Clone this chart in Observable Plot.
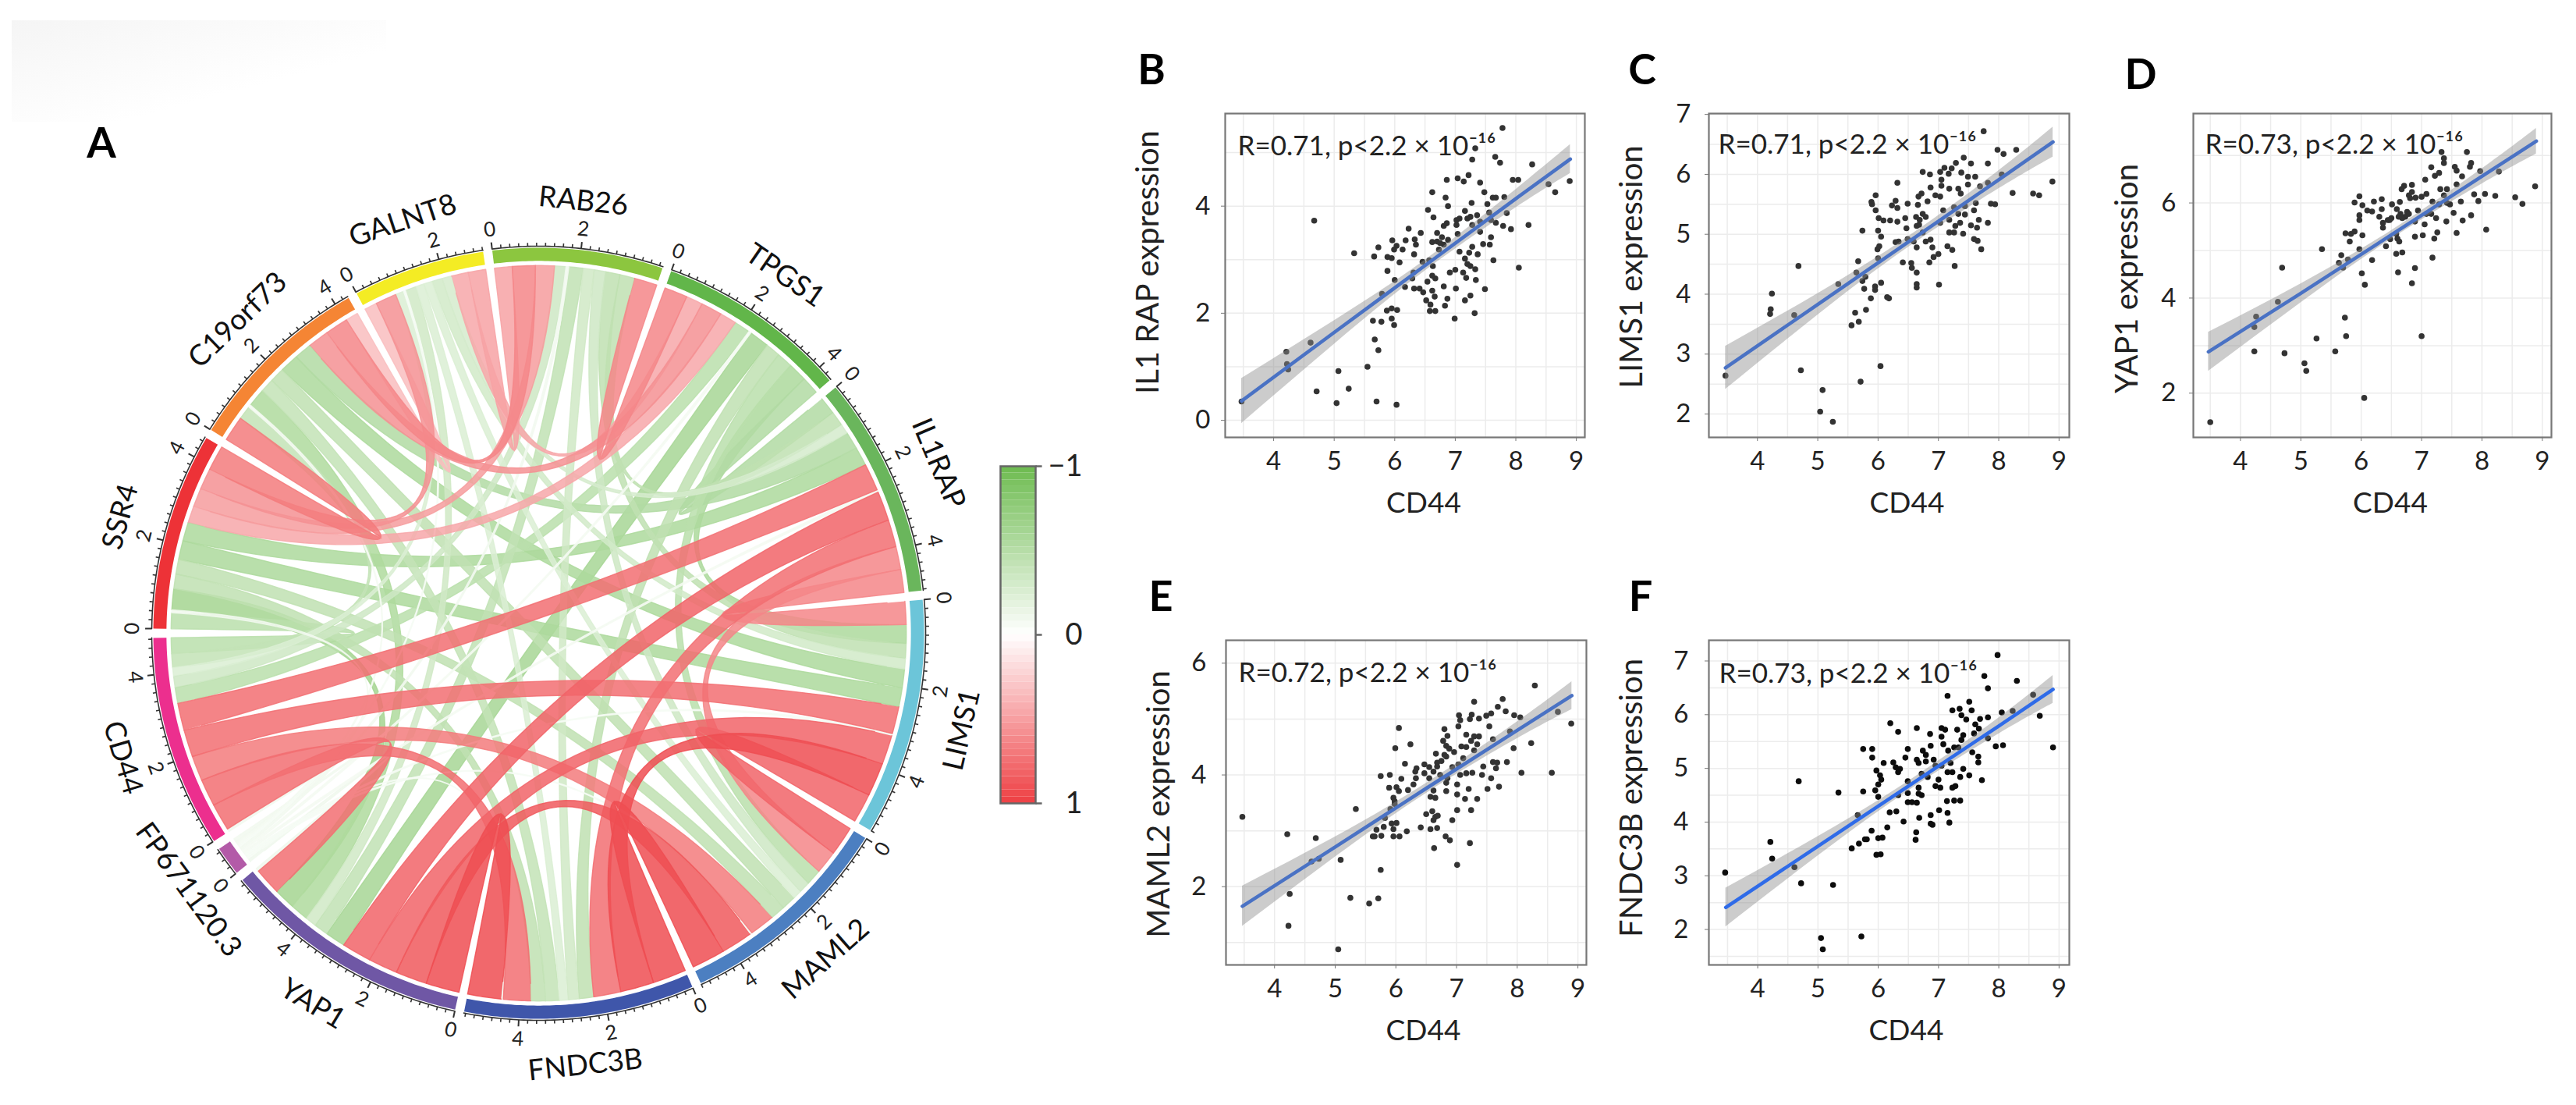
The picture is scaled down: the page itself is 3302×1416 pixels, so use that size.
<!DOCTYPE html>
<html><head><meta charset="utf-8">
<script src="https://cdn.jsdelivr.net/npm/d3@7"></script>
<script src="https://cdn.jsdelivr.net/npm/@observablehq/plot@0.6"></script>
<style>
html,body{margin:0;padding:0;background:#fff}
#page{position:relative;width:3302px;height:1416px;overflow:hidden;background:#fff;font-family:Lato,sans-serif}
#smudge{position:absolute;left:15px;top:26px;width:480px;height:130px;background:linear-gradient(165deg,#f5f5f5,#fff 65%)}
.letter{position:absolute;font:700 54px Lato,sans-serif;transform:translate(-50%,-50%);color:#000}
</style></head><body><div id="page"><div id="smudge"></div></div>
<script>
// ---------- Chord data (panel A) ----------
const genes = ["LIMS1","MAML2","FNDC3B","YAP1","FP671120.3","CD44","SSR4","C19orf73","GALNT8","RAB26","TPGS1","IL1RAP"];
const geneColors = ["#6cc5d9","#4c7fc1","#3f56aa","#6f57a5","#b35ba8","#ec2f8e","#ed3237","#f58534","#f4ec24","#8cc63f","#62b64a","#6ab65c"];
const correlations = [
 ["LIMS1","MAML2",.7],["LIMS1","FNDC3B",.8],["LIMS1","YAP1",.7],["LIMS1","CD44",.65],["LIMS1","IL1RAP",.55],
 ["MAML2","FNDC3B",.8],["MAML2","YAP1",.75],["MAML2","CD44",.6],["MAML2","IL1RAP",.55],
 ["FNDC3B","YAP1",.8],["FNDC3B","CD44",.65],["FNDC3B","IL1RAP",.65],
 ["YAP1","CD44",.65],["YAP1","IL1RAP",.7],["CD44","IL1RAP",.65],
 ["LIMS1","SSR4",-.45],["LIMS1","C19orf73",-.45],["LIMS1","GALNT8",-.25],["LIMS1","RAB26",-.35],["LIMS1","TPGS1",-.45],
 ["MAML2","SSR4",-.35],["MAML2","C19orf73",-.35],["MAML2","GALNT8",-.2],["MAML2","RAB26",-.27],["MAML2","TPGS1",-.38],
 ["FNDC3B","SSR4",-.35],["FNDC3B","C19orf73",-.33],["FNDC3B","GALNT8",-.2],["FNDC3B","RAB26",-.26],["FNDC3B","TPGS1",-.35],
 ["YAP1","SSR4",-.5],["YAP1","C19orf73",-.44],["YAP1","GALNT8",-.26],["YAP1","RAB26",-.34],["YAP1","TPGS1",-.48],
 ["CD44","SSR4",-.38],["CD44","C19orf73",-.33],["CD44","GALNT8",-.2],["CD44","RAB26",-.27],["CD44","TPGS1",-.38],
 ["IL1RAP","SSR4",-.45],["IL1RAP","C19orf73",-.42],["IL1RAP","GALNT8",-.23],["IL1RAP","RAB26",-.35],["IL1RAP","TPGS1",-.42],
 ["SSR4","C19orf73",.6],["SSR4","GALNT8",.5],["SSR4","RAB26",.45],["SSR4","TPGS1",.4],
 ["C19orf73","GALNT8",.3],["C19orf73","RAB26",.55],["C19orf73","TPGS1",.5],
 ["GALNT8","RAB26",.42],["GALNT8","TPGS1",.4],["RAB26","TPGS1",.55],
 ["FP671120.3","YAP1",-.08],["FP671120.3","FNDC3B",-.05],["FP671120.3","MAML2",-.05],["FP671120.3","LIMS1",-.05],
 ["FP671120.3","IL1RAP",-.06],["FP671120.3","TPGS1",-.06],["FP671120.3","RAB26",-.07],["FP671120.3","GALNT8",-.05],
 ["FP671120.3","C19orf73",-.06],["FP671120.3","SSR4",-.07],["FP671120.3","CD44",-.07]
];
const legendTicks = [-1,0,1];
// ---------- Scatter data (panels B-F) ----------
const fitX = [3.47,5,6.5,8,8.9];
const pointsB = [[3.47,.35],[4.21,1.28],[4.22,1.05],[4.24,.95],[4.61,1.45],[4.67,3.73],[4.71,.54],[5.07,.92],[5.04,.32],[5.24,.59],[5.33,3.12],[5.55,1],[5.66,3.06],[5.64,1.86],[5.67,1.51],[5.73,1.31],[5.7,.35],[5.73,3.23],[5.78,1.84],[5.79,2.36],[5.88,2.79],[5.88,3.05],[5.95,3.03],[5.87,2.05],[5.95,2.09],[5.95,1.9],[5.99,1.78],[6.04,2.06],[6.03,.29],[5.96,3.36],[6.03,3.26],[5.99,3.19],[6.13,3.19],[6.08,2.95],[6,2.62],[6.17,2.49],[6.18,3.36],[6.23,3.58],[6.29,2.65],[6.31,2.76],[6.32,3.1],[6.35,3.28],[6.33,3.38],[6.43,3.5],[6.32,2.46],[6.41,2.46],[6.46,2.96],[6.47,2.39],[6.55,3.93],[6.62,4.26],[6.64,3.79],[6.57,2.99],[6.63,2.88],[6.54,2.59],[6.67,2.65],[6.62,2.7],[6.62,2.42],[6.66,2.31],[6.52,2.24],[6.59,2.16],[6.58,2.04],[6.67,2.04],[6.81,2.5],[6.87,2.27],[6.83,2.14],[6.99,1.9],[6.91,2.76],[7,2.81],[7.01,2.46],[6.62,3.33],[6.7,3.5],[6.7,3.34],[6.75,3.31],[6.78,3.42],[6.73,3.19],[6.81,3.28],[6.88,3.37],[6.81,3.63],[6.86,3.68],[6.88,4],[6.84,4.16],[6.86,4.49],[7.04,4.52],[7.14,4.46],[7.22,4.58],[7.41,4.44],[7.28,4.87],[7.33,5.08],[7.66,4.92],[7.74,4.81],[7.78,5.46],[8.27,4.78],[7.95,4.49],[8.04,4.49],[7.48,4.26],[7.62,4.16],[7.67,4.16],[7.81,4.17],[7.27,4.06],[7.53,4.04],[7.16,3.91],[7.25,3.8],[7.02,3.74],[7.07,3.77],[7.2,3.77],[7.36,3.83],[7.41,3.71],[7.56,3.88],[7.28,3.65],[7.02,3.65],[7.04,3.48],[7.41,3.52],[7.59,3.42],[7.57,3.28],[7.46,3.29],[7.28,3.24],[7.07,3.15],[7.23,3.13],[7.37,3.1],[7.16,3.02],[7.2,2.92],[7.25,2.88],[7.13,2.76],[7.33,2.82],[7.18,2.66],[7.34,2.62],[7.49,2.45],[7.63,2.99],[7.25,2.33],[7.16,2.24],[7.32,2],[8.05,2.85],[7.85,3.87],[7.79,3.63],[7.92,3.57],[8.21,3.65],[7.67,3.69],[7.59,3.74],[8.54,4.41],[8.65,4.26],[8.89,4.47]];
const pointsC = [[3.47,2.64],[4.24,4.01],[4.22,3.75],[4.21,3.67],[4.61,3.65],[4.68,4.47],[4.72,2.73],[5.08,2.4],[5.04,2.04],[5.25,1.87],[5.34,4.17],[5.56,3.48],[5.62,3.69],[5.68,3.54],[5.71,2.54],[5.67,4.55],[5.64,4.36],[5.74,5.06],[5.74,4.22],[5.79,4.29],[5.8,3.74],[5.77,4.09],[5.88,3.93],[5.95,4.13],[5.95,4.07],[6.05,4.19],[6.04,2.8],[6.15,3.95],[6.18,3.93],[6,4.6],[5.99,4.75],[6.02,4.8],[6.05,4.96],[6,5.06],[6.01,5.27],[5.96,5.4],[5.89,5.54],[5.9,5.5],[5.96,5.65],[6.09,5.23],[6.2,5.23],[6.32,5.86],[6.29,5.56],[6.23,5.48],[6.32,5.44],[6.32,5.21],[6.34,4.88],[6.29,4.87],[6.41,4.53],[6.45,5.27],[6.47,5.1],[6.49,5.51],[6.49,4.92],[6.55,4.52],[6.56,4.44],[6.64,4.36],[6.64,4.17],[6.64,4.11],[6.64,4.78],[6.59,4.88],[6.66,5.49],[6.67,5.63],[6.72,5.68],[6.74,6.04],[6.86,6],[6.63,5.29],[6.64,5.14],[6.69,5.24],[6.74,5.34],[6.68,5.16],[6.79,5.29],[6.82,5.55],[6.87,5.78],[6.95,5.65],[7.03,5.63],[7.05,5.91],[7.03,6.04],[7.1,6.11],[7.17,6.01],[7.22,6.1],[7.29,6.19],[7.42,6.28],[7.54,6.18],[7.38,6.03],[7.61,5.96],[7.49,5.96],[7.49,5.83],[7.33,5.76],[7.37,5.68],[7.18,5.76],[7.05,5.81],[7.69,5.8],[7.75,6.72],[7.82,6.18],[7.98,6.41],[8.08,6.34],[8.05,6],[7.82,5.86],[7.87,5.51],[7.94,5.5],[8.23,5.69],[7.82,5.19],[7.67,5.24],[7.59,5.4],[7.62,5.52],[7.54,5.15],[7.64,5.11],[7.59,4.92],[7.65,4.89],[7.71,4.75],[7.27,4.47],[7.01,4.16],[6.85,4.53],[6.92,4.62],[7,4.67],[7.15,4.8],[7.23,4.74],[6.9,4.78],[7.03,5.19],[7.18,5.24],[7.28,5.14],[7.26,5.03],[7.18,5.03],[7.36,5.19],[7.41,5.01],[7.08,5.4],[7.26,5.45],[7.33,5.34],[7.44,5.33],[7.44,5.47],[6.79,4.88],[6.74,5.03],[6.87,4.91],[8.29,6.41],[8.57,5.68],[8.67,5.65],[8.89,5.88]];
const pointsD = [[3.5,1.39],[4.23,2.88],[4.23,3.39],[4.26,3.61],[4.62,3.92],[4.69,4.64],[4.73,2.84],[5.06,2.63],[5.09,2.47],[5.26,3.15],[5.35,5.03],[5.57,2.88],[5.73,3.59],[5.75,3.2],[5.63,4.74],[5.67,4.9],[5.7,4.64],[5.78,4.81],[5.74,5.36],[5.83,5.35],[5.81,5.19],[5.89,5.4],[5.97,5.03],[5.89,6.01],[5.97,6.14],[6.02,5.95],[5.97,5.74],[5.97,5.64],[6.02,5.32],[6.01,4.52],[6.06,4.28],[6.05,1.9],[6.18,4.8],[6.1,5.84],[6.21,6.03],[6.34,6.08],[6.18,5.82],[6.34,5.87],[6.3,5.71],[6.36,5.58],[6.36,5.48],[6.44,5.64],[6.5,5.68],[6.41,5.09],[6.48,5.24],[6.51,5.97],[6.59,5.87],[6.64,6.02],[6.62,5.71],[6.73,5.71],[6.67,6.29],[6.71,6.36],[6.84,6.38],[6.79,6.16],[6.84,6.23],[6.81,6.1],[6.9,6.11],[7,6.13],[7.08,6.19],[7.06,6.49],[7.16,6.75],[7.22,6.57],[7.29,6.63],[7.33,7.07],[7.37,6.94],[7.37,6.84],[7.55,6.76],[7.58,6.68],[7.75,7.07],[7.82,6.84],[7.8,6.76],[7.97,6.67],[7.67,6.56],[7.58,6.39],[7.31,6.29],[7.42,6.29],[7.37,6.16],[7.87,6.18],[8.05,6.19],[7.94,6.04],[8.22,6.15],[8.07,5.44],[7.82,5.74],[7.68,5.63],[7.53,5.79],[7.41,5.61],[7.58,5.37],[7.65,6.03],[7.47,5.97],[7.24,5.68],[7.26,5.38],[7.21,5.25],[7.02,5.32],[6.89,5.29],[7.18,4.85],[6.89,4.63],[6.84,4.31],[7,3.2],[6.61,4.54],[6.58,4.93],[6.68,4.96],[6.6,5.25],[6.63,5.19],[6.65,5.77],[6.76,5.81],[6.94,5.84],[7.05,5.55],[7.16,5.77],[7.29,5.97],[6.47,5.64],[6.58,5.35],[6.89,5.61],[7.08,5.77],[6.79,5.77],[7.18,6.03],[7.42,6],[6.68,5.68],[8.88,6.35],[8.55,6.12],[8.67,5.98],[8.28,6.66]];
const pointsE = [[3.47,3.25],[4.21,2.94],[4.25,1.87],[4.23,1.3],[4.61,2.45],[4.68,2.87],[4.73,2.5],[5.05,.88],[5.09,2.48],[5.25,1.8],[5.34,3.39],[5.56,1.7],[5.71,1.79],[5.75,2.3],[5.62,2.9],[5.68,3.02],[5.65,2.9],[5.76,2.91],[5.8,3.07],[5.82,3.23],[5.75,3.98],[5.9,4],[5.89,3.77],[6.01,3.78],[6.05,3.71],[5.96,3.59],[5.98,3.53],[5.91,3.39],[5.98,3.48],[5.93,3.13],[6.01,3.14],[5.96,3.03],[5.96,2.9],[6.06,2.9],[6.18,2.99],[6.41,3.06],[6.57,3.03],[6.68,3.05],[6.5,3.3],[6.6,3.35],[6.65,3.25],[6.62,3.19],[6.69,3.27],[6.63,2.69],[6.82,2.9],[6.89,2.83],[7.01,2.39],[7.22,2.78],[6.93,3.19],[7.01,3.37],[7.24,3.37],[7.34,3.57],[7.14,3.57],[7.01,3.65],[7.2,3.75],[7.51,3.75],[7.7,3.79],[7.57,3.94],[7.42,4],[7.44,4.15],[7.6,4.23],[7.67,4.22],[7.65,4.12],[7.83,4.23],[8.07,4.04],[8.23,4.57],[7.94,4.48],[7.88,4.78],[7.81,5.14],[7.76,5.36],[7.68,5.22],[7.57,5.1],[7.49,5.06],[7.37,5.01],[7.29,5.31],[7.25,5.08],[7.22,5],[7.04,5.07],[7.06,4.98],[7.03,4.87],[6.8,4.82],[6.85,4.7],[6.78,4.61],[6.83,4.52],[6.88,4.47],[6.96,4.41],[6.8,4.36],[6.66,4.38],[7.54,4.87],[7.6,4.64],[7.95,5.07],[8.05,5.03],[8.29,5.6],[7.37,4.69],[7.29,4.69],[7.16,4.72],[7.24,4.61],[7.34,4.55],[7.08,4.51],[7.16,4.5],[7.29,4.44],[7.11,4.3],[6.83,4.33],[6.75,4.25],[6.68,4.22],[6.68,4.15],[6.93,4.14],[7.03,4.19],[6.47,4.19],[6.55,4.14],[6.34,4.12],[6.32,4.06],[6.47,4.03],[6.55,3.94],[6.62,4.06],[6.73,4],[6.85,3.94],[6.83,3.86],[7.06,4],[7.16,4.03],[7.26,4.04],[6.29,3.83],[6.2,3.73],[6.09,3.93],[6.15,4.2],[6.05,4.84],[5.99,4.48],[6.24,4.55],[6.57,3.61],[6.62,3.72],[6.83,3.71],[7.01,3.83],[6.65,3.59],[6.33,3.94],[8.67,5.13],[8.89,4.92],[8.57,4.04]];
const pointsF = [[3.46,3.06],[4.21,3.63],[4.24,3.32],[4.61,3.16],[4.68,4.76],[4.72,2.86],[5.05,1.84],[5.08,1.63],[5.25,2.83],[5.34,4.55],[5.56,3.51],[5.66,4.13],[5.68,3.6],[5.72,1.87],[5.75,5.36],[5.75,4.57],[5.78,3.68],[5.81,3.68],[5.89,3.84],[5.9,5.36],[5.9,5.2],[5.97,3.39],[6.04,3.4],[6,3.7],[6.07,3.71],[5.97,4.96],[6.03,4.87],[6.05,4.79],[6,4.7],[5.95,4.59],[6,4.47],[6.09,5.1],[6.15,3.9],[6.19,4.18],[6.3,4.2],[6.2,5.84],[6.33,5.68],[6.25,5.11],[6.29,5.02],[6.33,4.93],[6.36,4.99],[6.42,4.01],[6.45,5.2],[6.49,5.36],[6.49,4.76],[6.49,4.54],[6.33,4.5],[6.49,4.37],[6.56,4.37],[6.64,4.36],[6.62,3.67],[6.63,3.81],[6.64,5.75],[6.64,5.16],[6.67,5.1],[6.67,4.64],[6.67,4.53],[6.72,4.5],[6.68,4.08],[6.87,4.13],[6.87,3.97],[6.9,3.95],[7.01,4.22],[7.15,4.17],[7.18,3.99],[7.14,4.39],[7.26,4.4],[7.36,4.4],[6.95,4.67],[7.03,4.64],[7,4.79],[7.23,4.64],[7.28,4.67],[7.36,4.84],[7.41,4.99],[7.51,4.87],[7.72,4.78],[6.86,5.64],[6.87,5.42],[6.74,5.33],[6.79,5.25],[6.92,5.16],[6.79,5.13],[7.05,5.75],[7.11,5.72],[7.15,6.35],[7.05,5.59],[7.08,5.45],[7.16,5.33],[7.23,6.08],[7.35,6.11],[7.38,5.99],[7.46,5.91],[7.51,6.24],[7.55,6.08],[7.61,5.82],[7.69,5.92],[7.82,5.95],[7.31,5.72],[7.41,5.62],[7.38,5.53],[7.59,5.65],[7.67,5.74],[7.56,5.3],[7.66,5.22],[7.66,5.11],[7.76,6.72],[7.82,6.49],[7.98,7.11],[8.05,6.04],[7.82,5.56],[7.95,5.41],[8.07,5.43],[7.2,5.1],[7.23,4.93],[7.05,5.05],[6.95,5.05],[7.26,5.39],[7.33,5.39],[7.15,4.93],[6.72,4.9],[6.82,4.84],[8.3,6.63],[8.57,6.37],[8.23,6.07],[8.68,5.98],[8.9,5.39]];
const fitB = {y:[.36,1.64,2.89,4.14,4.88],lo:[-.06,1.42,2.79,3.97,4.61],hi:[.78,1.86,2.99,4.31,5.15]};
const fitC = {y:[2.77,3.83,4.87,5.91,6.54],lo:[2.41,3.65,4.78,5.76,6.29],hi:[3.13,4.01,4.96,6.06,6.79]};
const fitD = {y:[2.87,4.1,5.33,6.56,7.3],lo:[2.46,3.9,5.24,6.4,7.03],hi:[3.28,4.3,5.42,6.72,7.57]};
const fitE = {y:[1.65,2.71,3.76,4.8,5.42],lo:[1.29,2.53,3.67,4.65,5.17],hi:[2.01,2.89,3.85,4.95,5.67]};
const fitF = {y:[2.41,3.55,4.67,5.79,6.47],lo:[2.05,3.37,4.58,5.64,6.21],hi:[2.77,3.73,4.76,5.94,6.73]};

// ---------- Layout ----------
const page = document.getElementById("page");
const FONT = "Lato, sans-serif";
function place(svg, left, top){ svg.style.position="absolute"; svg.style.left=left+"px"; svg.style.top=top+"px"; svg.style.maxWidth="none"; svg.style.overflow="visible"; svg.style.background="transparent"; page.appendChild(svg); }
[["A",130,181],["B",1476,87],["C",2105,87],["D",2744,93],["E",1488,762],["F",2103,762]].forEach(([t,x,y])=>{
  const d=document.createElement("div"); d.className="letter"; d.textContent=t; d.style.left=x+"px"; d.style.top=y+"px"; page.appendChild(d);
});

// ---------- Panel A: chord diagram ----------
const GREEN="#6dbb4f", RED="#ee3f43";
const corrColor = d3.scaleLinear([-1,0,1],[GREEN,"#ffffff",RED]).clamp(true);
const R_PX=496, HALF=600/R_PX;
const START=-5, GAP=1.37;
const rAxis=1, rBandO=.996, rBandI=.962, rRib=.95, rTickLab=1.05, rGene=1.122;
const n=genes.length, idx=new Map(genes.map((g,i)=>[g,i]));
const mat=genes.map(()=>new Array(n).fill(0));
correlations.forEach(([a,b,r])=>{mat[idx.get(a)][idx.get(b)]=r;mat[idx.get(b)][idx.get(a)]=r;});
const widths=mat.map(row=>d3.sum(row,Math.abs));
const unitDeg=(360-n*GAP)/d3.sum(widths);
const sectors=[]; let cur=START;
genes.forEach((g,i)=>{const a0=cur,a1=cur+widths[i]*unitDeg;sectors.push({g,i,a0,a1,w:widths[i]});cur=a1+GAP;});
const pol=(deg,r)=>{const t=deg*Math.PI/180;return [r*Math.cos(t),r*Math.sin(t)];};
// slot of each partner along a sector, clockwise: previous neighbour first
const slots=genes.map(()=>({}));
sectors.forEach(s=>{let u=0;for(let k=1;k<n;k++){const o=(s.i-k+n)%n;const w=Math.abs(mat[s.i][o]);slots[s.i][o]=[s.a0+u*unitDeg,s.a0+(u+w)*unitDeg];u+=w;}});
function arc(a,b,r){const m=Math.max(2,Math.ceil(Math.abs(b-a)/.5));return d3.range(m+1).map(j=>pol(a+(b-a)*j/m,r));}
function bez(a,b){
  const P=pol(a,rRib),Q=pol(b,rRib);
  let sep=Math.abs(a-b)%360; if(sep>180) sep=360-sep;
  const k=.15*sep/180, C=[k*(P[0]+Q[0])/2,k*(P[1]+Q[1])/2];
  return d3.range(1,40).map(j=>{const t=j/40,u=1-t;return [u*u*P[0]+2*u*t*C[0]+t*t*Q[0],u*u*P[1]+2*u*t*C[1]+t*t*Q[1]];});
}
const ribbons=[];
correlations.forEach(([a,b,r])=>{
  const i=idx.get(a),j=idx.get(b),[a0,a1]=slots[i][j],[b0,b1]=slots[j][i];
  ribbons.push({r,pts:[...arc(a0,a1,rRib),...bez(a1,b0),...arc(b0,b1,rRib),...bez(b1,a0)]});
});
ribbons.sort((p,q)=>p.r-q.r);
const xy={x:d=>d[0],y:d=>d[1]};
const ribbonMarks=ribbons.map(rb=>{const c=corrColor(rb.r*(rb.r<0?1.25:1.15));return Plot.line(rb.pts,{...xy,curve:"linear",fill:c,fillOpacity:.85,stroke:c,strokeWidth:1.4,strokeOpacity:.85});});
const bandMarks=sectors.map((s,i)=>Plot.line([...arc(s.a0,s.a1,rBandO),...arc(s.a1,s.a0,rBandI)],{...xy,curve:"linear",fill:geneColors[i],stroke:"none"}));
const axisMarks=sectors.map(s=>Plot.line(arc(s.a0,s.a1,rAxis),{...xy,curve:"linear",stroke:"#333",strokeWidth:1.6}));
const bend=a=>{const t=((a%360)+360)%360; return (t>0&&t<180)? t-90 : t+90;};
const minorTicks=[],majorTicks=[],tickLabels=[];
sectors.forEach(s=>{
  for(let k=0;k*.2<=s.w+1e-6;k++){
    const u=k*.2, a=s.a0+u*unitDeg, major=k%10===0;
    (major?majorTicks:minorTicks).push(a);
    if(major) tickLabels.push({a,t:String(u)});
  }
});
const tickLink=(list,r2,sw)=>Plot.link(list,{x1:a=>pol(a,rAxis)[0],y1:a=>pol(a,rAxis)[1],x2:a=>pol(a,r2)[0],y2:a=>pol(a,r2)[1],stroke:"#333",strokeWidth:sw});
const geneLabels=sectors.map(s=>({g:s.g,a:(s.a0+s.a1)/2}));
const chord=Plot.plot({
  width:1200,height:1200,margin:0,
  x:{domain:[-HALF,HALF],axis:null},y:{domain:[HALF,-HALF],axis:null},
  style:{fontFamily:FONT,background:"transparent"},
  marks:[
    ...ribbonMarks,...bandMarks,...axisMarks,
    tickLink(minorTicks,1.009,1.6),tickLink(majorTicks,1.017,2),
    Plot.text(tickLabels,{x:d=>pol(d.a,rTickLab)[0],y:d=>pol(d.a,rTickLab)[1],text:"t",rotate:d=>bend(d.a),fontSize:26,fill:"#222"}),
    Plot.text(geneLabels,{x:d=>pol(d.a,rGene)[0],y:d=>pol(d.a,rGene)[1],text:"g",rotate:d=>bend(d.a),fontSize:37,fill:"#111"})
  ]
});
place(chord,90,211);

// ---------- Colour legend ----------
const stops=d3.range(-1,1,.04);
const legend=Plot.plot({
  width:105,height:432,marginLeft:0,marginRight:60,marginTop:0,marginBottom:0,
  x:{domain:[0,1],axis:null},y:{domain:[1,-1],axis:null},
  color:{type:"linear",domain:[-1,0,1],range:[GREEN,"#ffffff",RED]},
  style:{fontFamily:FONT,background:"transparent"},
  marks:[
    Plot.rect(stops,{x1:0,x2:1,y1:d=>d,y2:d=>d+.04,fill:d=>d+.02,stroke:null}),
    Plot.frame({stroke:"#666",strokeWidth:2.5}),
    Plot.link(legendTicks,{x1:1,x2:1.18,y1:d=>d,y2:d=>d,stroke:"#666",strokeWidth:2.5}),
    Plot.text(legendTicks,{x:1,y:d=>d,text:d=>d===-1?"−1":String(d),dx:60,textAnchor:"end",fontSize:38,fill:"#222"})
  ]
});
place(legend,1282,597);

// ---------- Panels B-F ----------
const xAxisTitle="CD44";
function scatter({points,fit,ylabel,label,left,right,top,bottom,xd,yd,yticks,ygrid,ann,titleDx,titleDy,yTitleDx,yTickPad,dot,line}){
  const mL=140,mR=10,mT=10,mB=110;
  const data=fitX.map((x,i)=>({x,y:fit.y[i],lo:fit.lo[i],hi:fit.hi[i]}));
  const svg=Plot.plot({
    width:right-left+mL+mR,height:bottom-top+mT+mB,marginLeft:mL,marginRight:mR,marginTop:mT,marginBottom:mB,
    x:{domain:xd,axis:null},y:{domain:yd,axis:null},
    style:{fontFamily:FONT,background:"transparent",color:"#222"},
    marks:[
      Plot.ruleX([4,5,6,7,8,9,3.5,4.5,5.5,6.5,7.5,8.5],{stroke:"#ececec",strokeWidth:1.5}),
      Plot.ruleY(ygrid,{stroke:"#ececec",strokeWidth:1.5}),
      Plot.dot(points,{x:d=>d[0],y:d=>d[1],r:3.8,fill:dot,stroke:"none"}),
      Plot.areaY(data,{x:"x",y1:"lo",y2:"hi",fill:"#8f8f8f",fillOpacity:.45,curve:"natural"}),
      Plot.line(data,{x:"x",y:"y",stroke:line,strokeWidth:4.5,curve:"linear"}),
      Plot.frame({stroke:"#777",strokeWidth:2.2}),
      Plot.axisX({ticks:[4,5,6,7,8,9],tickSize:5,tickPadding:13,fontSize:33,stroke:"#777",fill:"#222",label:null,tickFormat:d=>String(d)}),
      Plot.axisY({ticks:yticks,tickSize:5,tickPadding:yTickPad,fontSize:33,stroke:"#777",fill:"#222",label:null,tickFormat:d=>String(d)}),
      Plot.text([xAxisTitle],{frameAnchor:"bottom",lineAnchor:"middle",dy:85,dx:titleDx,fontSize:37,fill:"#222"}),
      Plot.text([ylabel],{frameAnchor:"left",textAnchor:"middle",lineAnchor:"middle",rotate:-90,dx:-yTitleDx,dy:titleDy,fontSize:40,fill:"#222"}),
      Plot.text([label],{frameAnchor:"top-left",lineAnchor:"middle",dx:ann[0],dy:ann[1],textAnchor:"start",fontSize:35,fill:"#222"})
    ]
  });
  place(svg,left-mL,top-mT);
}
const BLUE="#4a72c4";
scatter({points:pointsB,fit:fitB,ylabel:"IL1 RAP expression",label:"R=0.71, p<2.2 × 10⁻¹⁶",left:1570,right:2031,top:145,bottom:560,xd:[3.2,9.14],yd:[-.32,5.73],yticks:[0,2,4],ygrid:[0,1,2,3,4,5],ann:[16,42],titleDx:24,titleDy:-17,yTitleDx:98,yTickPad:14,dot:"#333",line:BLUE});
scatter({points:pointsC,fit:fitC,ylabel:"LIMS1 expression",label:"R=0.71, p<2.2 × 10⁻¹⁶",left:2190,right:2652,top:145,bottom:560,xd:[3.195,9.17],yd:[1.61,7.015],yticks:[2,3,4,5,6,7],ygrid:[2,2.5,3,3.5,4,4.5,5,5.5,6,6.5,7],ann:[12,40],titleDx:23,titleDy:-11,yTitleDx:98,yTickPad:18,dot:"#333",line:BLUE});
scatter({points:pointsD,fit:fitD,ylabel:"YAP1 expression",label:"R=0.73, p<2.2 × 10⁻¹⁶",left:2811,right:3270,top:145,bottom:560,xd:[3.22,9.15],yd:[1.07,7.88],yticks:[2,4,6],ygrid:[2,3,4,5,6,7],ann:[15,40],titleDx:23,titleDy:4,yTitleDx:84,yTickPad:17,dot:"#333",line:BLUE});
scatter({points:pointsE,fit:fitE,ylabel:"MAML2 expression",label:"R=0.72, p<2.2 × 10⁻¹⁶",left:1571,right:2033,top:820,bottom:1236,xd:[3.2,9.14],yd:[.6,6.41],yticks:[2,4,6],ygrid:[1,2,3,4,5,6],ann:[16,42],titleDx:22,titleDy:2,yTitleDx:85,yTickPad:20,dot:"#333",line:BLUE});
scatter({points:pointsF,fit:fitF,ylabel:"FNDC3B expression",label:"R=0.73, p<2.2 × 10⁻¹⁶",left:2190,right:2652,top:820,bottom:1236,xd:[3.19,9.17],yd:[1.34,7.385],yticks:[2,3,4,5,6,7],ygrid:[1.5,2,2.5,3,3.5,4,4.5,5,5.5,6,6.5,7],ann:[13,43],titleDx:22,titleDy:-6,yTitleDx:98,yTickPad:21,dot:"#0d0d0d",line:"#2f6be8"});
</script></body></html>
